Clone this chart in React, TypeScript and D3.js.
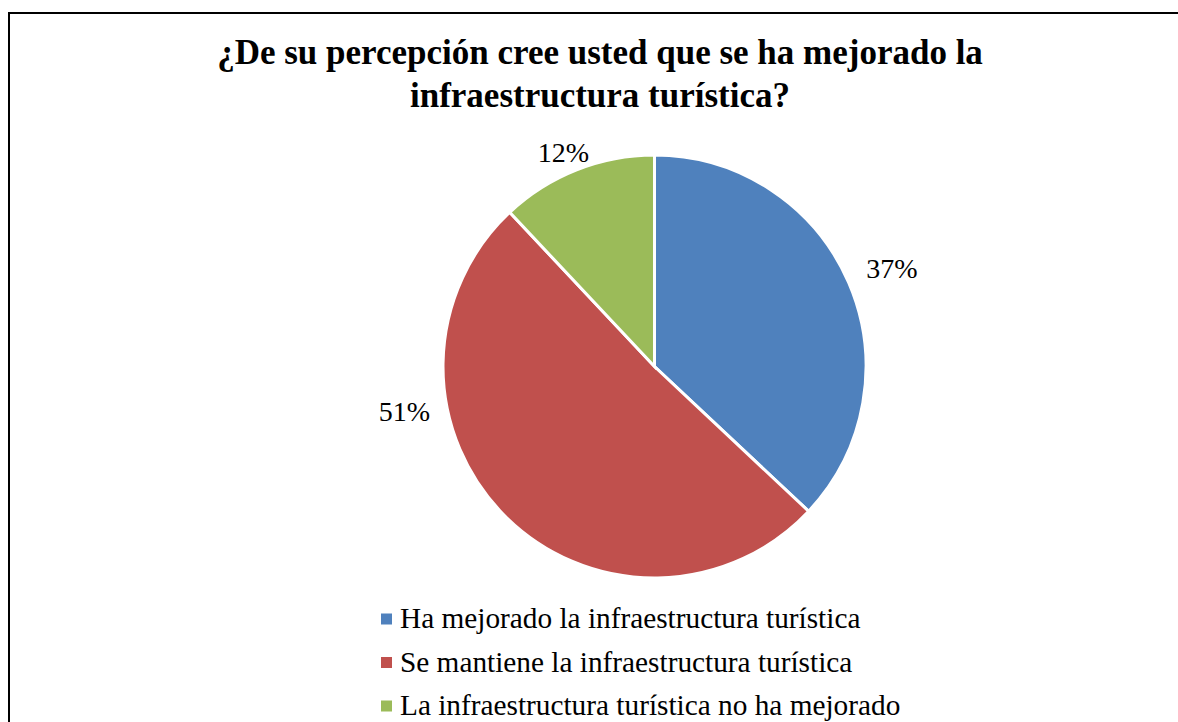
import React from "react";
import * as d3 from "d3";

const categories = [
  "Ha mejorado la infraestructura turística",
  "Se mantiene la infraestructura turística",
  "La infraestructura turística no ha mejorado",
];
const values = [37, 51, 12];
const colors = ["#4F81BD", "#C0504D", "#9BBB59"];
const titleLines = [
  "¿De su percepción cree usted que se ha mejorado la",
  "infraestructura turística?",
];
// label placement (angle in degrees clockwise from top, radius in px)
const labelPlacement = [
  { angle: 67.5, radius: 257 },
  { angle: 260, radius: 254 },
  { angle: 337, radius: 233 },
];

const FONT = '"Liberation Serif", "Times New Roman", Tinos, serif';

export default function App() {
  const W = 1178;
  const H = 722;
  const cx = 654.5;
  const cy = 366.5;
  const r = 211.5;
  const total = d3.sum(values);
  const pie = d3.pie<number>().sort(null).value((d) => d)(values);
  const arc = d3.arc<d3.PieArcDatum<number>>().innerRadius(0).outerRadius(r);
  return (
    <svg width={W} height={H} style={{ position: "absolute", left: 0, top: 0 }}>
      <style>{`.ser { font-family: ${FONT}; }`}</style>
      <rect x={0} y={0} width={W} height={H} fill="#fff" />
      <rect x={9} y={13} width={W + 20} height={H + 20} fill="none" stroke="#000" strokeWidth={2} />
      {titleLines.map((t, i) => (
        <text
          key={i}
          className="ser"
          x={600}
          y={64 + i * 43}
          textAnchor="middle"
          fontWeight="bold"
          fontSize={35}
          fill="#000"
        >
          {t}
        </text>
      ))}
      <g transform={`translate(${cx},${cy})`}>
        {pie.map((p, i) => (
          <path key={i} d={arc(p) || ""} fill={colors[i]} stroke="#fff" strokeWidth={3} />
        ))}
        {pie.map((p, i) => {
          const a = (labelPlacement[i].angle * Math.PI) / 180;
          const lx = Math.sin(a) * labelPlacement[i].radius;
          const ly = -Math.cos(a) * labelPlacement[i].radius;
          return (
            <text
              key={i}
              className="ser"
              x={lx}
              y={ly + 10}
              textAnchor="middle"
              fontSize={28}
              fill="#000"
            >
              {`${Math.round((values[i] / total) * 100)}%`}
            </text>
          );
        })}
      </g>
      {categories.map((c, i) => (
        <g key={i} transform={`translate(381,${619 + i * 43.5})`}>
          <rect x={0} y={-5.5} width={11} height={11} fill={colors[i]} />
          <text className="ser" x={19} y={9} fontSize={29.3} fill="#000">
            {c}
          </text>
        </g>
      ))}
    </svg>
  );
}
